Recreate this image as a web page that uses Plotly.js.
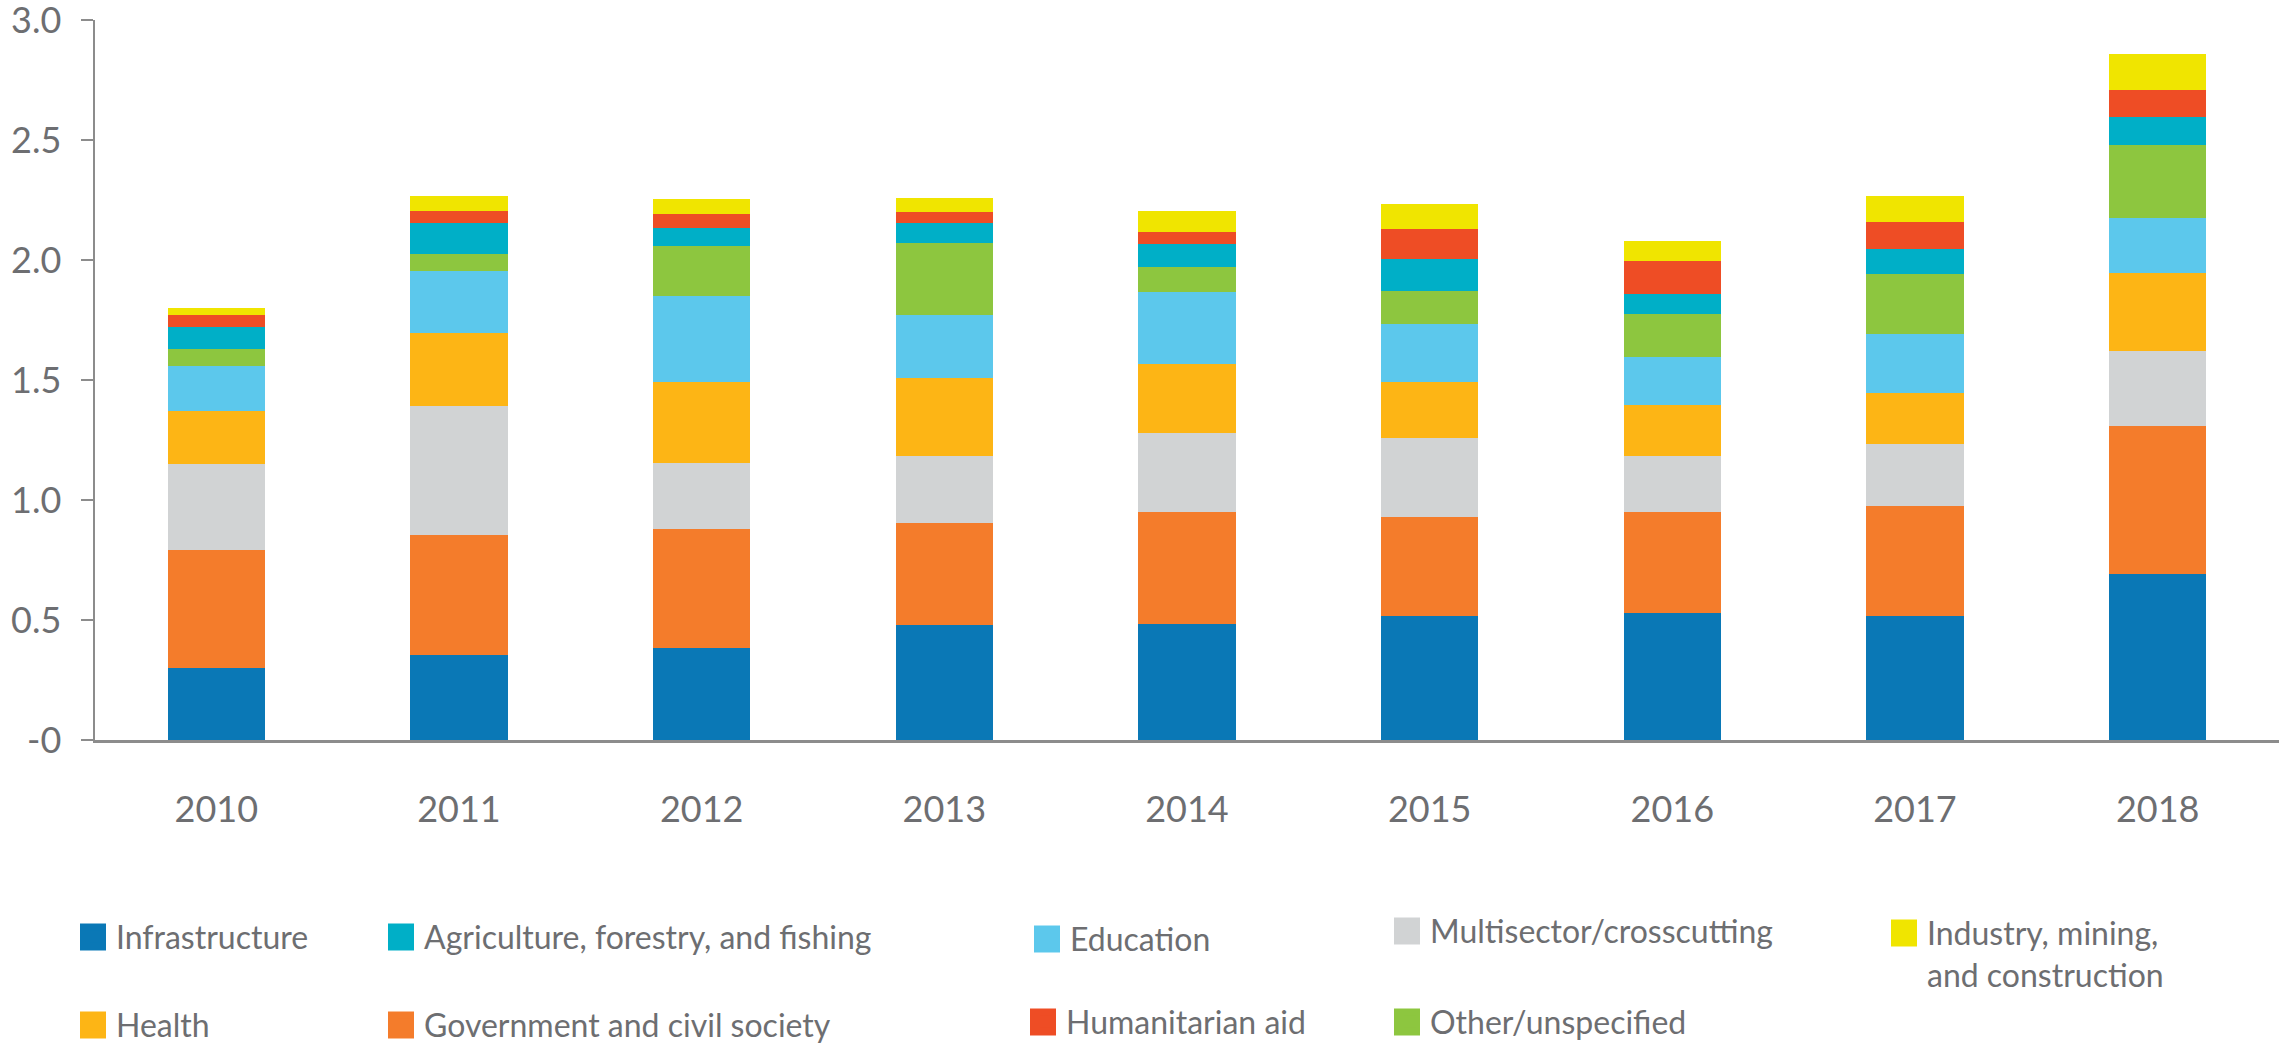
<!DOCTYPE html>
<html>
<head>
<meta charset="utf-8">
<script src="https://cdn.plot.ly/plotly-3.0.1.min.js"></script>
<style>
  html, body { margin: 0; padding: 0; background: #ffffff; }
  #chart { width: 2292px; height: 1049px; }
</style>
</head>
<body>
<div id="chart"></div>
<script>
// ---- Data ----
const years = ["2010", "2011", "2012", "2013", "2014", "2015", "2016", "2017", "2018"];

const infrastructure = [0.30, 0.355, 0.385, 0.48, 0.485, 0.515, 0.53, 0.515, 0.69];
const government     = [0.49, 0.50, 0.495, 0.425, 0.465, 0.415, 0.42, 0.46, 0.62];
const multisector    = [0.36, 0.535, 0.275, 0.28, 0.33, 0.33, 0.235, 0.26, 0.31];
const health         = [0.22, 0.305, 0.335, 0.325, 0.285, 0.23, 0.21, 0.21, 0.325];
const education      = [0.19, 0.26, 0.36, 0.26, 0.30, 0.245, 0.20, 0.245, 0.23];
const otherUnspec    = [0.07, 0.07, 0.21, 0.30, 0.105, 0.135, 0.18, 0.25, 0.305];
const agriculture    = [0.09, 0.13, 0.075, 0.085, 0.095, 0.135, 0.085, 0.105, 0.115];
const humanitarian   = [0.05, 0.05, 0.055, 0.045, 0.05, 0.125, 0.135, 0.115, 0.115];
const industry       = [0.03, 0.06, 0.065, 0.06, 0.09, 0.105, 0.085, 0.105, 0.15];

const yTickVals = [0, 0.5, 1.0, 1.5, 2.0, 2.5, 3.0];
const yTickText = ["-0", "0.5", "1.0", "1.5", "2.0", "2.5", "3.0"];

// ---- Styling ----
const W = 2292, H = 1049;
const M = {l: 95, r: 13, t: 20, b: 309};
const PW = W - M.l - M.r, PH = H - M.t - M.b;
const textColor = "#6d6e71";
const axisColor = "#8c8c8c";
const fontFamily = "Lato, 'Open Sans', sans-serif";

// series: name, values, colour, legend id, legend text start x (px), legend key centre y (px)
const series = [
  {name: "Infrastructure", y: infrastructure, color: "#0a78b6", lg: "legend",  lx: 118,  ly: 937},
  {name: "Government and civil society", y: government, color: "#f47c2b", lg: "legend2", lx: 426, ly: 1025},
  {name: "Multisector/crosscutting", y: multisector, color: "#d1d3d4", lg: "legend3", lx: 1432, ly: 931},
  {name: "Health", y: health, color: "#fdb515", lg: "legend4", lx: 118, ly: 1025},
  {name: "Education", y: education, color: "#5cc8ec", lg: "legend5", lx: 1072, ly: 939},
  {name: "Other/unspecified", y: otherUnspec, color: "#8dc63f", lg: "legend6", lx: 1432, ly: 1022},
  {name: "Agriculture, forestry, and fishing", y: agriculture, color: "#00afc7", lg: "legend7", lx: 426, ly: 937},
  {name: "Humanitarian aid", y: humanitarian, color: "#ee4d25", lg: "legend8", lx: 1068, ly: 1022},
  {name: "Industry, mining,<br>and construction", y: industry, color: "#f0e500", lg: "legend9", lx: 1929, ly: 933, lines: 2}
];

const traces = series.map(s => ({
  type: "bar",
  name: s.name,
  x: years,
  y: s.y,
  legend: s.lg,
  marker: {color: s.color, line: {width: 0}},
  hoverinfo: "x+y+name"
}));

// larger legend keys (decoration behind each legend symbol)
const px2paperX = px => (px - M.l) / PW;
const px2paperY = py => (H - M.b - py) / PH;
const keyShapes = series.map(s => ({
  type: "rect",
  xref: "paper", yref: "paper",
  x0: px2paperX(s.lx - 38), x1: px2paperX(s.lx - 12),
  y0: px2paperY(s.ly + 13.5), y1: px2paperY(s.ly - 13.5),
  fillcolor: s.color,
  line: {width: 0},
  layer: "above"
}));

const lineH = 32 * 1.3;

const layout = {
  width: W,
  height: H,
  paper_bgcolor: "#ffffff",
  plot_bgcolor: "#ffffff",
  font: {family: fontFamily, color: textColor, size: 32},
  barmode: "stack",
  bargap: 0.6,
  margin: {l: M.l, r: M.r, t: M.t, b: M.b, autoexpand: false},
  showlegend: true,
  shapes: keyShapes,
  xaxis: {
    type: "category",
    showline: true,
    linecolor: axisColor,
    linewidth: 2.5,
    ticks: "",
    showgrid: false,
    zeroline: false,
    tickfont: {family: fontFamily, size: 36, color: textColor},
    ticklabelstandoff: 36,
    fixedrange: true
  },
  yaxis: {
    range: [0, 3],
    tickvals: yTickVals,
    ticktext: yTickText,
    showline: true,
    linecolor: axisColor,
    linewidth: 2.5,
    ticks: "outside",
    ticklen: 12,
    tickwidth: 2.5,
    tickcolor: axisColor,
    showgrid: false,
    zeroline: false,
    tickfont: {family: fontFamily, size: 36, color: textColor},
    ticklabelstandoff: 12,
    ticklabeloverflow: "allow",
    fixedrange: true
  }
};

series.forEach(s => {
  const centreY = s.ly + ((s.lines || 1) - 1) * lineH / 2;
  layout[s.lg] = {
    xref: "container",
    yref: "container",
    x: (s.lx - 42) / W,
    y: 1 - centreY / H,
    xanchor: "left",
    yanchor: "middle",
    bgcolor: "rgba(0,0,0,0)",
    borderwidth: 0,
    valign: "top",
    font: {family: fontFamily, size: 32, color: textColor}
  };
});

Plotly.newPlot("chart", traces, layout, {displayModeBar: false, staticPlot: true});
</script>
</body>
</html>
